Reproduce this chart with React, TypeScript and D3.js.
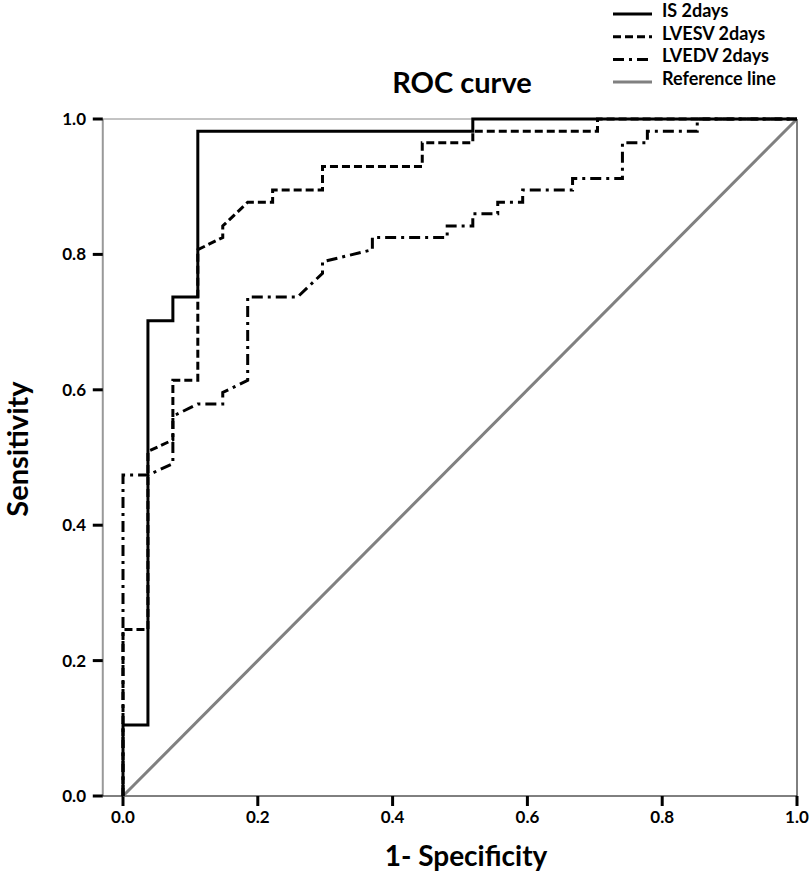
import { useEffect, useRef } from 'react';
import * as d3 from 'd3';

// ROC curve: three predictors vs the chance diagonal
const IS_FPR = [0, 0, 0.037, 0.037, 0.074, 0.074, 0.111, 0.111, 0.519, 0.519, 1];
const IS_TPR = [0, 0.105, 0.105, 0.702, 0.702, 0.737, 0.737, 0.982, 0.982, 1, 1];

const LVESV_FPR = [0, 0, 0.037, 0.037, 0.074, 0.074, 0.111, 0.111, 0.148, 0.148, 0.185, 0.222, 0.222, 0.296, 0.296, 0.444, 0.444, 0.519, 0.519, 0.704, 0.704, 1];
const LVESV_TPR = [0, 0.246, 0.246, 0.509, 0.526, 0.614, 0.614, 0.807, 0.825, 0.842, 0.877, 0.877, 0.895, 0.895, 0.93, 0.93, 0.965, 0.965, 0.982, 0.982, 1, 1];

const LVEDV_FPR = [0, 0, 0.037, 0.074, 0.074, 0.111, 0.148, 0.148, 0.185, 0.185, 0.259, 0.296, 0.296, 0.37, 0.37, 0.481, 0.481, 0.519, 0.519, 0.556, 0.556, 0.593, 0.593, 0.667, 0.667, 0.741, 0.741, 0.778, 0.778, 0.852, 0.852, 1];
const LVEDV_TPR = [0, 0.474, 0.474, 0.491, 0.561, 0.579, 0.579, 0.596, 0.614, 0.737, 0.737, 0.772, 0.789, 0.807, 0.825, 0.825, 0.842, 0.842, 0.86, 0.86, 0.877, 0.877, 0.895, 0.895, 0.912, 0.912, 0.965, 0.965, 0.982, 0.982, 1, 1];

const REF_X = [0, 1];
const REF_Y = [0, 1];

const TICKS = [0, 0.2, 0.4, 0.6, 0.8, 1.0];

const SERIES = [
  { name: 'Reference line', xs: REF_X, ys: REF_Y, color: '#808080', dash: null },
  { name: 'LVEDV 2days', xs: LVEDV_FPR, ys: LVEDV_TPR, color: '#000', dash: '11,5,3,5' },
  { name: 'LVESV 2days', xs: LVESV_FPR, ys: LVESV_TPR, color: '#000', dash: '8,4' },
  { name: 'IS 2days', xs: IS_FPR, ys: IS_TPR, color: '#000', dash: null },
];

const LEGEND_ORDER = ['IS 2days', 'LVESV 2days', 'LVEDV 2days', 'Reference line'];

const FONT = 'Lato, "Open Sans", sans-serif';

export default function App() {
  const svgRef = useRef<SVGSVGElement | null>(null);

  useEffect(() => {
    if (!svgRef.current) return;
    const svg = d3.select(svgRef.current);
    svg.selectAll('*').remove();

    const x = d3.scaleLinear().domain([0, 1]).range([123, 797]);
    const y = d3.scaleLinear().domain([0, 1]).range([796, 119]);
    const xLeft = x(-0.03);

    // frame
    svg.append('line').attr('x1', xLeft).attr('x2', x(1)).attr('y1', y(1)).attr('y2', y(1))
      .attr('stroke', '#888').attr('stroke-width', 1);
    svg.append('line').attr('x1', x(1)).attr('x2', x(1)).attr('y1', y(1)).attr('y2', y(0))
      .attr('stroke', '#000').attr('stroke-width', 1);
    svg.append('line').attr('x1', xLeft).attr('x2', xLeft).attr('y1', y(1)).attr('y2', y(0))
      .attr('stroke', '#999').attr('stroke-width', 2);
    svg.append('line').attr('x1', xLeft).attr('x2', x(1)).attr('y1', y(0)).attr('y2', y(0))
      .attr('stroke', '#000').attr('stroke-width', 1);

    // y ticks + labels
    TICKS.forEach((t) => {
      svg.append('line').attr('x1', xLeft - 10).attr('x2', xLeft).attr('y1', y(t)).attr('y2', y(t))
        .attr('stroke', '#000').attr('stroke-width', 3);
      svg.append('text').attr('x', 86).attr('y', y(t) + 6)
        .attr('text-anchor', 'end').attr('font-family', FONT).attr('font-weight', 700)
        .attr('font-size', 17).attr('fill', '#000').text(t.toFixed(1));
    });

    // x ticks + labels
    TICKS.forEach((t) => {
      svg.append('line').attr('x1', x(t)).attr('x2', x(t)).attr('y1', y(0)).attr('y2', y(0) + 10)
        .attr('stroke', '#000').attr('stroke-width', 3);
      svg.append('text').attr('x', x(t)).attr('y', 823)
        .attr('text-anchor', 'middle').attr('font-family', FONT).attr('font-weight', 700)
        .attr('font-size', 17).attr('fill', '#000').text(t.toFixed(1));
    });

    // curves
    const line = d3.line<[number, number]>().x((d) => x(d[0])).y((d) => y(d[1]));
    SERIES.forEach((s) => {
      const pts = s.xs.map((v, i) => [v, s.ys[i]] as [number, number]);
      svg.append('path').datum(pts).attr('d', line)
        .attr('fill', 'none').attr('stroke', s.color).attr('stroke-width', 3)
        .attr('stroke-dasharray', s.dash ?? null);
    });

    // titles
    svg.append('text').attr('x', 462).attr('y', 93).attr('text-anchor', 'middle')
      .attr('font-family', FONT).attr('font-weight', 700).attr('font-size', 29).text('ROC curve');
    svg.append('text').attr('x', 466).attr('y', 866).attr('text-anchor', 'middle')
      .attr('font-family', FONT).attr('font-weight', 700).attr('font-size', 28).text('1- Specificity');
    svg.append('text').attr('transform', 'translate(28,449) rotate(-90)').attr('text-anchor', 'middle')
      .attr('font-family', FONT).attr('font-weight', 700).attr('font-size', 29).text('Sensitivity');

    // legend
    LEGEND_ORDER.forEach((name, i) => {
      const s = SERIES.find((d) => d.name === name)!;
      const by = 17 + i * 22.7;
      svg.append('line').attr('x1', 613).attr('x2', 652).attr('y1', by - 3).attr('y2', by - 3)
        .attr('stroke', s.color).attr('stroke-width', 3)
        .attr('stroke-dasharray', s.dash ?? null);
      svg.append('text').attr('x', 662).attr('y', by)
        .attr('font-family', FONT).attr('font-weight', 700).attr('font-size', 18).text(name);
    });
  }, []);

  return (
    <svg ref={svgRef} width={812} height={877}
      style={{ position: 'absolute', left: 0, top: 0, background: '#fff' }} />
  );
}
